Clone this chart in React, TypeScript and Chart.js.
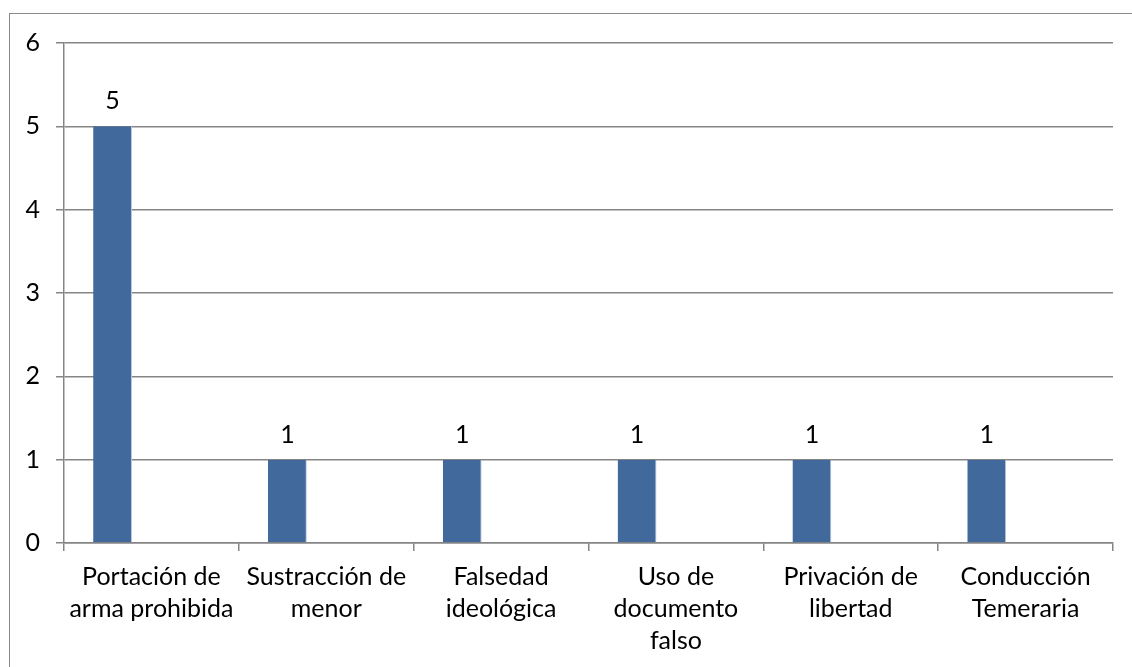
import React, { useEffect, useRef } from "react";
import { Chart, registerables } from "chart.js";

Chart.register(...registerables);

// Offence categories (two-line labels) and case counts
const categories: string[][] = [
  ["Portación de", "arma prohibida"],
  ["Sustracción de", "menor"],
  ["Falsedad", "ideológica"],
  ["Uso de", "documento", "falso"],
  ["Privación de", "libertad"],
  ["Conducción", "Temeraria"],
];
const casos: number[] = [5, 1, 1, 1, 1, 1];
// Two further series exist in the source table but hold no values
const serie2: (number | null)[] = [null, null, null, null, null, null];
const serie3: (number | null)[] = [null, null, null, null, null, null];
const yTicks: number[] = [0, 1, 2, 3, 4, 5, 6];

const FONT = "Lato, 'Open Sans', sans-serif";
const FONT_SIZE = 25;
const BAR_COLOR = "#41699C";
const GRID_COLOR = "#858585";

// Writes each value above its bar
const valueLabels = {
  id: "valueLabels",
  afterDatasetsDraw(chart: any) {
    const ctx = chart.ctx;
    const meta = chart.getDatasetMeta(0);
    ctx.save();
    ctx.font = `${FONT_SIZE}px ${FONT}`;
    ctx.fillStyle = "#000";
    ctx.textAlign = "center";
    ctx.textBaseline = "alphabetic";
    meta.data.forEach((el: any, i: number) => {
      const v = chart.data.datasets[0].data[i];
      if (v == null) return;
      ctx.fillText(String(v), el.x, el.y - 17);
    });
    ctx.restore();
  },
};

export default function App() {
  const canvasRef = useRef<HTMLCanvasElement | null>(null);

  useEffect(() => {
    if (!canvasRef.current) return;
    const chart = new Chart(canvasRef.current, {
      type: "bar",
      data: {
        labels: categories,
        datasets: [
          {
            label: "Casos",
            data: casos,
            backgroundColor: BAR_COLOR,
            borderColor: "#B8C8DC",
            borderWidth: { top: 0, left: 0, bottom: 0, right: 1 },
            borderSkipped: false,
            categoryPercentage: 3 / 4.5,
            barPercentage: 1,
          },
          {
            label: "Serie 2",
            data: serie2,
            backgroundColor: "#C0504D",
            categoryPercentage: 3 / 4.5,
            barPercentage: 1,
          },
          {
            label: "Serie 3",
            data: serie3,
            backgroundColor: "#9BBB59",
            categoryPercentage: 3 / 4.5,
            barPercentage: 1,
          },
        ],
      },
      options: {
        animation: false,
        responsive: false,
        maintainAspectRatio: false,
        layout: { padding: { top: 43, right: 19, left: 0, bottom: 0 } },
        plugins: {
          legend: { display: false },
          tooltip: { enabled: false },
        },
        scales: {
          x: {
            offset: true,
            grid: {
              offset: true,
              drawOnChartArea: false,
              drawTicks: true,
              tickLength: 8,
              color: GRID_COLOR,
              lineWidth: 1.5,
            },
            border: { display: true, color: GRID_COLOR, width: 1.5 },
            ticks: {
              color: "#000",
              font: { family: FONT, size: FONT_SIZE, lineHeight: 1.28 },
              padding: 10,
              maxRotation: 0,
              autoSkip: false,
            },
            afterFit(scale: any) {
              scale.height = 124;
            },
          },
          y: {
            min: 0,
            max: 6,
            afterBuildTicks(scale: any) {
              scale.ticks = yTicks.map((v) => ({ value: v }));
            },
            grid: {
              drawOnChartArea: true,
              drawTicks: true,
              tickLength: 8,
              color: GRID_COLOR,
              lineWidth: 1.5,
            },
            border: { display: true, color: GRID_COLOR, width: 1.5 },
            ticks: {
              color: "#000",
              font: { family: FONT, size: FONT_SIZE },
              padding: 16,
            },
            afterFit(scale: any) {
              scale.width = 64;
            },
          },
        },
      },
      plugins: [valueLabels],
    });
    return () => chart.destroy();
  }, []);

  return (
    <div
      style={{
        position: "fixed",
        left: 0,
        top: 0,
        width: 1132,
        height: 667,
        overflow: "hidden",
        background: "#fff",
      }}
    >
      <div
        style={{
          position: "absolute",
          left: 9,
          top: 13,
          width: 1200,
          height: 700,
          border: "1px solid #8A8A8A",
          boxSizing: "border-box",
        }}
      />
      <canvas
        ref={canvasRef}
        width={1132}
        height={667}
        style={{ position: "absolute", left: 0, top: 0, width: 1132, height: 667 }}
      />
    </div>
  );
}
